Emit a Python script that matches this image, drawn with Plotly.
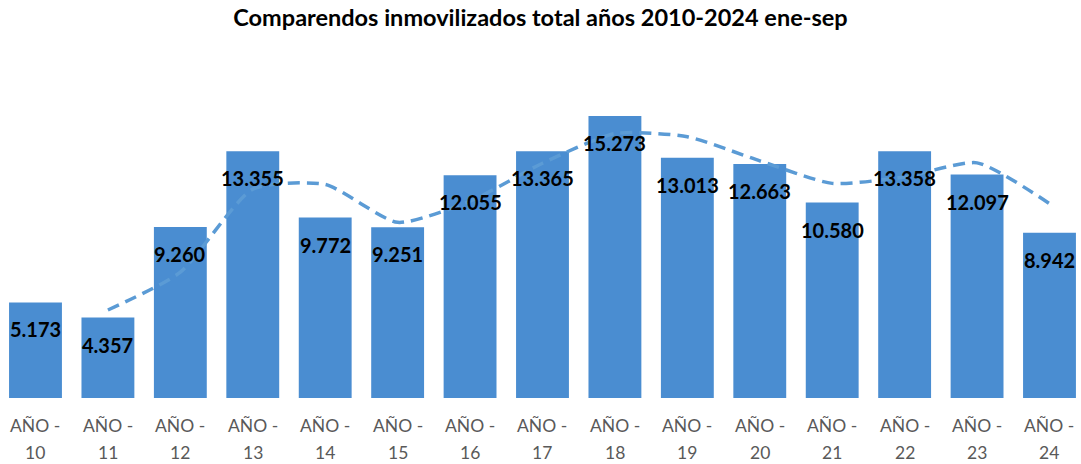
import plotly.graph_objects as go

years = ["10", "11", "12", "13", "14", "15", "16", "17", "18", "19", "20", "21", "22", "23", "24"]
tick_prefix = "AÑO -"
values = [5173, 4357, 9260, 13355, 9772, 9251, 12055, 13365, 15273, 13013, 12663, 10580, 13358, 12097, 8942]
# dashed trend line (2-period moving average)
trend = [None, 4765, 6810, 11305, 11565, 9510, 10655, 12710, 14320, 14145, 12840, 11620, 11970, 12730, 10520]

x = list(range(len(years)))
BAR = "#4A8DD1"
FONT = "Lato"

fig = go.Figure()
fig.add_trace(go.Bar(
    x=x, y=values, marker=dict(color=BAR, line=dict(width=0)),
    width=0.73, hoverinfo="skip", showlegend=False,
))
fig.add_trace(go.Scatter(
    x=x, y=trend, mode="lines",
    line=dict(color="#5B9BD5", width=3.5, dash="12px,7px", shape="spline", smoothing=0.6),
    hoverinfo="skip", showlegend=False,
))

for xi, v in zip(x, values):
    fig.add_annotation(
        x=xi, y=v, xref="x", yref="y", text=f"{v:,}".replace(",", "."),
        showarrow=False, yanchor="middle", yshift=-27,
        font=dict(family=FONT, size=20, color="#000000", weight="bold"),
    )

for xi, yr in zip(x, years):
    fig.add_annotation(
        x=xi, y=0, xref="x", yref="y", text=tick_prefix,
        showarrow=False, yanchor="middle", yshift=-27,
        font=dict(family=FONT, size=17.5, color="#595959"),
    )
    fig.add_annotation(
        x=xi, y=0, xref="x", yref="y", text=yr,
        showarrow=False, yanchor="middle", yshift=-54,
        font=dict(family=FONT, size=17.5, color="#595959"),
    )

fig.update_layout(
    width=1081, height=464,
    margin=dict(l=0, r=0, t=84, b=66),
    paper_bgcolor="white", plot_bgcolor="white",
    title=dict(text="<b>Comparendos inmovilizados total años 2010-2024 ene-sep</b>",
               x=0.5, xanchor="center", y=0.961, yanchor="middle",
               font=dict(family=FONT, size=23.5, color="#000000")),
    xaxis=dict(range=[-0.49, 14.435], showticklabels=False,
               showgrid=False, zeroline=False, showline=False, ticks=""),
    yaxis=dict(range=[0, 17000], visible=False, showgrid=False, zeroline=False),
    bargap=0.27,
)

fig.write_html("out.html", config={"displayModeBar": False},
               post_script="document.body.style.margin='0';document.body.style.padding='0';")
